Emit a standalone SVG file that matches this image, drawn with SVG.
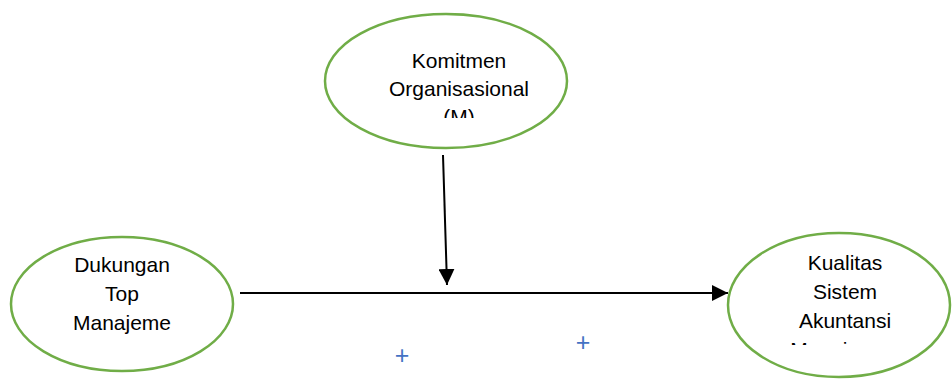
<svg xmlns="http://www.w3.org/2000/svg" width="952" height="379" viewBox="0 0 952 379">
<style>
.node ellipse{fill:#fff;stroke:#70AD47;stroke-width:2.5}
.lbl{font-family:"Liberation Sans",Arial,sans-serif;font-size:21px;fill:#000;text-anchor:middle}
.plus{font-family:"Liberation Sans",Arial,sans-serif;font-size:25px;fill:#4472C4;text-anchor:middle}
.conn{stroke:#000;stroke-width:2;fill:none}
</style>
<defs>
<marker id="arr2" viewBox="0 0 10 10" refX="10" refY="5" markerWidth="16" markerHeight="16" markerUnits="userSpaceOnUse" orient="auto" preserveAspectRatio="none">
<path d="M0,0 L10,5 L0,10 z" fill="#000"/>
</marker>
<clipPath id="cM"><rect x="330" y="30" width="240" height="88"/></clipPath>
<clipPath id="cY"><rect x="740" y="240" width="210" height="105"/></clipPath>
</defs>
<g id="connectors">
<line class="conn" x1="240" y1="293" x2="728" y2="293" marker-end="url(#arr2)"/>
<line class="conn" x1="443" y1="155" x2="447" y2="285" marker-end="url(#arr2)"/>
</g>
<g id="node-M" class="node">
<ellipse cx="446" cy="81" rx="121" ry="67"/>
<g clip-path="url(#cM)">
<text class="lbl" x="459" y="68">Komitmen</text>
<text class="lbl" x="459" y="96">Organisasional</text>
<text class="lbl" x="459" y="124">(M)</text>
</g>
</g>
<g id="node-X" class="node">
<ellipse cx="122" cy="304" rx="111" ry="67"/>
<text class="lbl" x="122" y="272">Dukungan</text>
<text class="lbl" x="122" y="301">Top</text>
<text class="lbl" x="122" y="330">Manajeme</text>
</g>
<g id="node-Y" class="node">
<ellipse cx="839" cy="305" rx="111" ry="72"/>
<g clip-path="url(#cY)">
<text class="lbl" x="845" y="270">Kualitas</text>
<text class="lbl" x="845" y="299">Sistem</text>
<text class="lbl" x="845" y="328">Akuntansi</text>
<text class="lbl" x="845" y="357">Manajemen</text>
</g>
</g>
<text class="plus" x="402" y="364">+</text>
<text class="plus" x="583" y="351">+</text>
</svg>
